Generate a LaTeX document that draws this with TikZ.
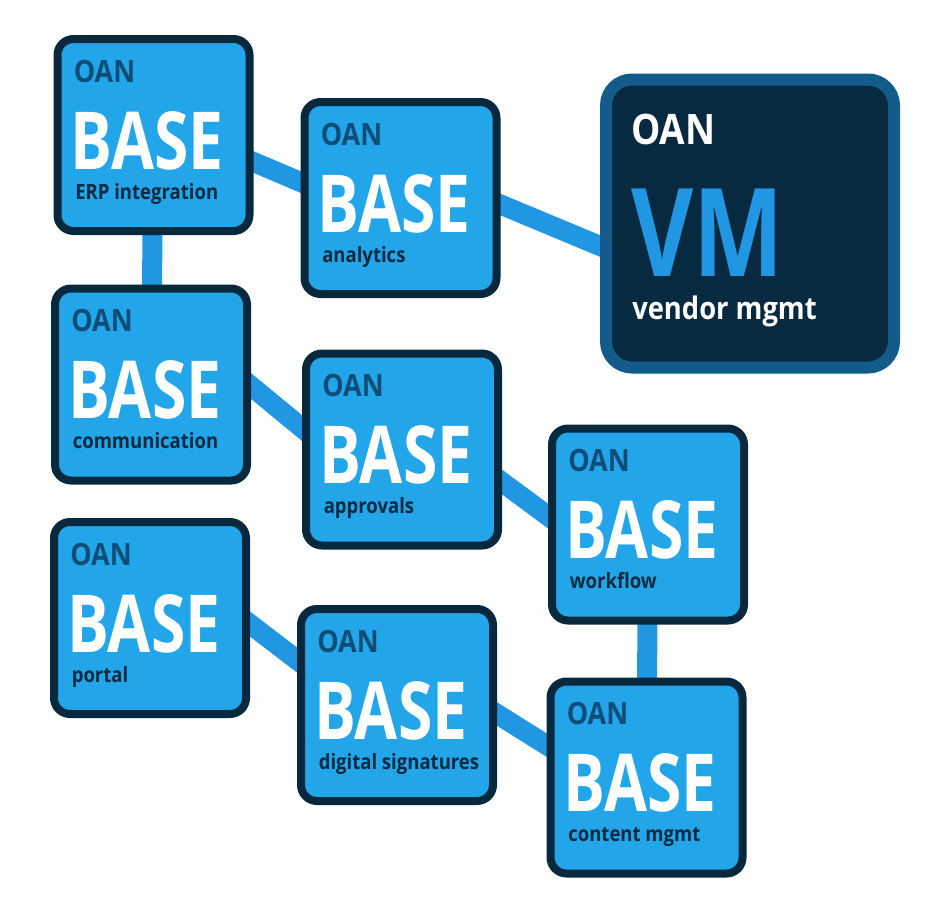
\documentclass[tikz,border=0pt]{standalone}
\usepackage{fontspec}
\setmainfont{Open Sans}[FakeStretch=0.78]
\newfontfamily\labfont{Open Sans}[FakeStretch=0.88]
\usetikzlibrary{calc,backgrounds}
\definecolor{boxfill}{RGB}{35,166,233}
\definecolor{boxborder}{RGB}{8,40,61}
\definecolor{oancol}{RGB}{14,77,120}
\definecolor{labcol}{RGB}{10,42,64}
\definecolor{linkcol}{RGB}{33,150,227}
\definecolor{vmborder}{RGB}{19,91,139}
\definecolor{vmfill}{RGB}{7,42,64}
\tikzset{
  box/.style={draw=boxborder, fill=boxfill, line width=6pt, rounded corners=12pt,
    minimum width=144pt, minimum height=144pt, inner sep=0pt, outer sep=3pt},
  vmbox/.style={draw=vmborder, fill=vmfill, line width=9pt, rounded corners=19.5pt,
    minimum width=216pt, minimum height=216pt, inner sep=0pt, outer sep=4.5pt},
  oan/.style={anchor=base west, inner sep=0pt, text=oancol, font=\labfont\fontsize{23}{23}\selectfont\bfseries},
  big/.style={anchor=base west, inner sep=0pt, text=white, font=\fontsize{60}{60}\selectfont\bfseries},
  lab/.style={anchor=base west, inner sep=0pt, text=labcol, font=\labfont\fontsize{15.8}{16}\selectfont\bfseries},
  link/.style={draw=linkcol, line width=15pt, shorten <=-12pt, shorten >=-12pt},
}
\newcommand\basebox[4]{%
  \node[box] (#1) at (#2,#3) {};
  \node[oan] (#1-o) at ($(#1.north west)+(20,47)$) {OAN};
  \node[big] (#1-b) at ($(#1.north west)+(17,134)$) {BASE};
  \node[lab] (#1-l) at ($(#1.north west)+(21.5,164)$) {#4};
}
\begin{document}
\begin{tikzpicture}[x=0.75pt,y=-0.75pt]
\useasboundingbox (0,0) rectangle (950,900);
\basebox{b1}{153.5}{135}{ERP integration}
\basebox{b2}{400.5}{198}{analytics}
\basebox{b3}{151}{384.5}{communication}
\basebox{b4}{402}{449.5}{approvals}
\basebox{b5}{648}{524.5}{workflow}
\basebox{b6}{150}{618}{portal}
\basebox{b7}{397}{705}{digital signatures}
\basebox{b8}{646.5}{777.5}{content mgmt}
\node[vmbox] (vm) at (750,223.5) {};
\node[oan, text=white, font=\labfont\fontsize{31.5}{32}\selectfont\bfseries] (vm-o) at ($(vm.north west)+(31,71)$) {OAN};
\node[big, text=linkcol, font=\fontsize{92}{92}\selectfont\bfseries] (vm-b) at ($(vm.north west)+(31,203)$) {VM};
\node[lab, text=white, font=\labfont\fontsize{23.3}{24}\selectfont\bfseries] (vm-l) at ($(vm.north west)+(32,246)$) {vendor mgmt};
\begin{pgfonlayer}{background}
\draw[link] (b1) -- (b3);
\draw[link] (b5) -- (b8);
\draw[link] ($(b1.east)+(0,27)$) -- ($(b2.west)+(0,-16)$);
\draw[link] ($(b2.east)+(0,6.5)$) -- ($(vm.west)+(0,22.5)$);
\draw[link] ($(b3.east)+(0,1.5)$) -- ($(b4.west)+(0,-21.5)$);
\draw[link] ($(b4.east)+(0,32.5)$) -- ($(b5.west)+(0,-8.5)$);
\draw[link] ($(b6.east)+(0,6)$) -- ($(b7.west)+(0,-45)$);
\draw[link] ($(b7.east)+(0,9)$) -- ($(b8.west)+(0,-32.5)$);
\end{pgfonlayer}
\end{tikzpicture}
\end{document}
